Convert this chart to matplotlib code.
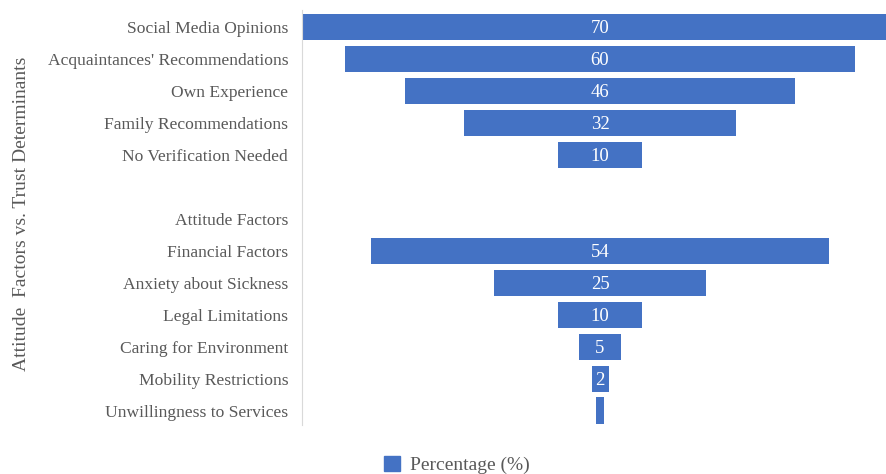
import matplotlib.pyplot as plt
from matplotlib.patches import Patch

categories = ["Social Media Opinions", "Acquaintances' Recommendations", "Own Experience",
              "Family Recommendations", "No Verification Needed", "",
              "Attitude Factors", "Financial Factors", "Anxiety about Sickness",
              "Legal Limitations", "Caring for Environment", "Mobility Restrictions",
              "Unwillingness to Services"]
values = [70, 60, 46, 32, 10, 0, 0, 54, 25, 10, 5, 2, 1]
shown = [True, True, True, True, True, False, False, True, True, True, True, True, False]

plt.rcParams['font.family'] = ['Liberation Serif', 'DejaVu Serif']
bar_color = "#4472C4"
text_color = "#595959"

fig = plt.figure(figsize=(8.87, 4.74), dpi=100)
ax = fig.add_axes([0.3405, 0.1034, 0.6595, 0.8756])

pos = list(range(len(categories)))
lefts = [-v / 2 for v in values]
ax.barh(pos, values, left=lefts, height=0.82, color=bar_color)

for y, v, s in zip(pos, values, shown):
    if s:
        ax.text(0, y, str(v), ha="center", va="center_baseline", color="white", fontsize=13.5)

ax.set_xlim(-35.1, 33.8)
ax.set_ylim(12.45, -0.53)
ax.set_yticks(pos)
ax.set_yticklabels(categories, fontsize=12.6, color=text_color)
ax.tick_params(axis="y", length=0, pad=10)
ax.set_xticks([])
for side in ["top", "right", "bottom"]:
    ax.spines[side].set_visible(False)
ax.spines["left"].set_color("#d9d9d9")

fig.text(0.024, 0.548, "Attitude  Factors vs. Trust Determinants", rotation=90,
         ha="center", va="center", fontsize=14, color=text_color)

fig.legend(handles=[Patch(color=bar_color, label="Percentage (%)")],
           loc="center", bbox_to_anchor=(0.515, 0.019), frameon=False,
           fontsize=14, handlelength=0.8, handleheight=0.8, handletextpad=0.5,
           labelcolor=text_color)

fig.savefig("out.png", dpi=100)
